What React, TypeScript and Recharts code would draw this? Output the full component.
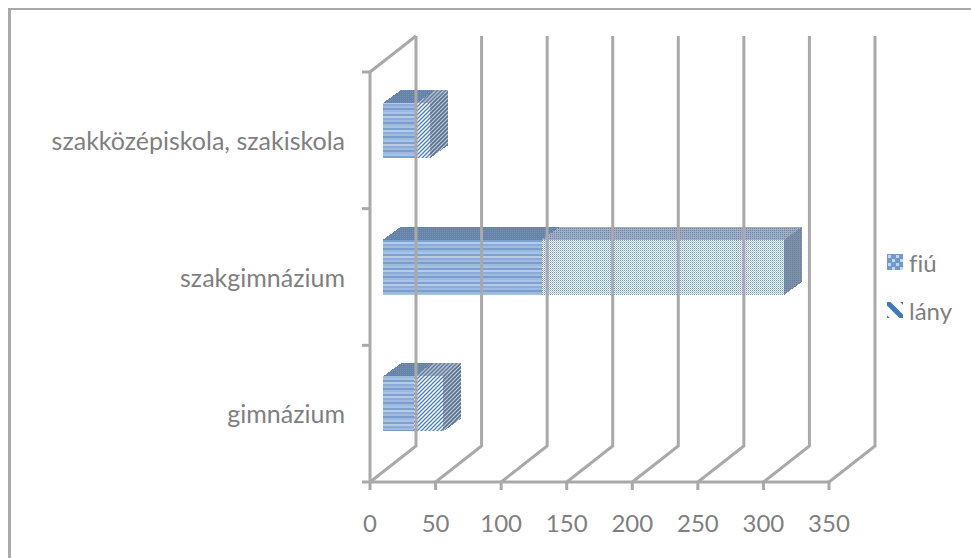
/**
 * Iskolatípusok fiú / lány létszáma: fekvő, halmozott "3D" oszlopdiagram
 */

import { BarChart, Bar, XAxis, YAxis, Legend } from 'recharts';

const schoolTypes = ['szakközépiskola, szakiskola', 'szakgimnázium', 'gimnázium'];
const fiu = [26, 121, 24];
const lany = [10, 185, 22];
const xTicks = [0, 50, 100, 150, 200, 250, 300, 350];

const chartData = schoolTypes.map((name, i) => ({ name, fiu: fiu[i], lany: lany[i] }));

const GRID = '#a9a9a9';
const TEXT = '#7f7f7f';
const FONT = 'Lato, "Open Sans", sans-serif';
const LINE = 3;

// floor / wall depth of the fake 3D box
const WALL_DX = 46;
const WALL_DY = 36;
const WALL_HEIGHT = 410;
const BAND = WALL_HEIGHT / schoolTypes.length;

// bars sit in the middle of the depth, and have a depth of their own
const BAR_DX = 13;
const BAR_DY = 10;
const BOX_DX = 18;
const BOX_DY = 13;

const XTick = ({ x, y, payload }: any) => {
  // recharts hands over the label position, 8px under the axis line
  const axisY = y - 8;
  return (
    <g>
      <path
        d={`M${x},${axisY + 8} L${x},${axisY} L${x + WALL_DX},${axisY - WALL_DY} L${x + WALL_DX},${axisY - WALL_HEIGHT - WALL_DY}`}
        fill="none"
        stroke={GRID}
        strokeWidth={LINE}
      />
      <text x={x} y={axisY + 42} dy="0.35em" textAnchor="middle" fill={TEXT} fontSize={24} fontFamily={FONT}>
        {payload.value}
      </text>
    </g>
  );
};

const YTick = ({ x, y, payload, index }: any) => {
  const axisX = x + 8;
  const top = y - BAND / 2;
  return (
    <g>
      <line x1={axisX - 8} x2={axisX} y1={top} y2={top} stroke={GRID} strokeWidth={LINE} />
      {index === 2 && (
        <line x1={axisX - 8} x2={axisX} y1={y + BAND / 2} y2={y + BAND / 2} stroke={GRID} strokeWidth={LINE} />
      )}
      {index === 0 && (
        <line x1={axisX} x2={axisX + WALL_DX} y1={top} y2={top - WALL_DY} stroke={GRID} strokeWidth={LINE} />
      )}
      <text x={345} y={y + 1} dy="0.35em" textAnchor="end" fill={TEXT} fontSize={25} fontFamily={FONT} style={{ fontVariantLigatures: 'none' }}>
        {payload.value}
      </text>
    </g>
  );
};

const Box = ({ x, y, width, height, face, top, side }: any) => {
  const left = x + BAR_DX;
  const upper = y - BAR_DY;
  const right = left + width;
  const lower = upper + height;
  return (
    <g shapeRendering="crispEdges">
      <rect x={left} y={upper} width={width} height={height} fill={face} />
      <polygon
        points={`${left},${upper} ${left + BOX_DX},${upper - BOX_DY} ${right + BOX_DX},${upper - BOX_DY} ${right},${upper}`}
        fill={top}
      />
      <polygon
        points={`${right},${upper} ${right + BOX_DX},${upper - BOX_DY} ${right + BOX_DX},${lower - BOX_DY} ${right},${lower}`}
        fill={side}
      />
    </g>
  );
};

const FiuBox = (props: any) => <Box {...props} face="url(#fiuFace)" top="url(#fiuTop)" side="url(#sideDark)" />;

// the middle bar is wide enough that its stripes read as a fine dither
const LanyBox = (props: any) =>
  props.index === 1 ? (
    <Box {...props} face="url(#lanyDither)" top="url(#lanyTopDither)" side="url(#sideDark)" />
  ) : (
    <Box {...props} face="url(#lanyStripes)" top="url(#lanyTop)" side="url(#sideStripes)" />
  );

const legendIcons: Record<string, string> = { fiú: 'url(#fiuLegend)', lány: 'url(#lanyLegend)' };

const LegendContent = ({ payload }: any) => (
  <div style={{ fontFamily: FONT, fontSize: 24, color: TEXT, fontVariantLigatures: 'none' }}>
    {payload.map((entry: any) => (
      <div key={entry.value} style={{ display: 'flex', alignItems: 'center', height: 48 }}>
        <svg width={16} height={16} style={{ marginRight: 6 }}>
          <rect width={16} height={16} fill={legendIcons[entry.value]} />
        </svg>
        {entry.value}
      </div>
    ))}
  </div>
);

export default function App() {
  return (
    <div style={{ position: 'absolute', left: 0, top: 0, width: 971, height: 558, background: '#fff', overflow: 'hidden' }}>
      <div style={{ position: 'absolute', left: 8, top: 8, right: 0, bottom: 0, borderLeft: `3px solid ${GRID}`, borderTop: `2px solid ${GRID}` }} />
      <BarChart
        width={971}
        height={558}
        layout="vertical"
        data={chartData}
        barSize={55}
        margin={{ top: 72, right: 58, bottom: 0, left: 0 }}
        style={{ position: 'absolute', left: 0, top: 0 }}
      >
        <defs>
          <pattern id="fiuFace" width="4" height="14" patternUnits="userSpaceOnUse">
            <rect width="4" height="14" fill="#8fafd8" />
            <rect y="0" width="4" height="2" fill="#a9c3e3" />
            <rect y="2" width="4" height="2" fill="#7da2d1" />
            <rect y="4" width="4" height="2" fill="#b5cbe6" />
            <rect y="6" width="4" height="2" fill="#8cabd6" />
            <rect y="8" width="4" height="2" fill="#a0bbdf" />
            <rect y="10" width="4" height="2" fill="#789ecf" />
            <rect y="12" width="4" height="2" fill="#9cb9de" />
          </pattern>
          <pattern id="fiuTop" width="2" height="2" patternUnits="userSpaceOnUse">
            <rect width="2" height="2" fill="#6584ab" />
            <rect width="1" height="1" fill="#7590b3" />
          </pattern>
          <pattern id="lanyStripes" width="4" height="4" patternUnits="userSpaceOnUse">
            <rect width="4" height="4" fill="#ffffff" />
            <path d="M-1,1 L1,-1 M0,4 L4,0 M3,5 L5,3" stroke="#4a7ebb" strokeWidth={1.3} shapeRendering="auto" />
          </pattern>
          <pattern id="lanyDither" width="2" height="2" patternUnits="userSpaceOnUse">
            <rect width="2" height="2" fill="#ffffff" />
            <rect width="1" height="1" fill="#6f97cb" />
            <rect x="1" y="1" width="1" height="1" fill="#a9c1e1" />
          </pattern>
          <pattern id="lanyTop" width="4" height="4" patternUnits="userSpaceOnUse">
            <rect width="4" height="4" fill="#b4bcc8" />
            <path d="M-1,1 L1,-1 M0,4 L4,0 M3,5 L5,3" stroke="#5f7da3" strokeWidth={1.3} shapeRendering="auto" />
          </pattern>
          <pattern id="lanyTopDither" width="2" height="2" patternUnits="userSpaceOnUse">
            <rect width="2" height="2" fill="#a3aebd" />
            <rect width="1" height="1" fill="#6c87a9" />
          </pattern>
          <pattern id="sideDark" width="2" height="2" patternUnits="userSpaceOnUse">
            <rect width="2" height="2" fill="#7f91a8" />
            <rect width="1" height="1" fill="#647d9c" />
          </pattern>
          <pattern id="sideStripes" width="4" height="4" patternUnits="userSpaceOnUse">
            <rect width="4" height="4" fill="#c4ccd6" />
            <path d="M-1,1 L1,-1 M0,4 L4,0 M3,5 L5,3" stroke="#54718f" strokeWidth={1.6} shapeRendering="auto" />
          </pattern>
          <pattern id="fiuLegend" width="8" height="8" patternUnits="userSpaceOnUse">
            <rect width="8" height="8" fill="#6f9ad0" />
            <rect x="1" y="1" width="3" height="3" fill="#c6d7ec" />
            <rect x="5" y="5" width="3" height="3" fill="#c6d7ec" />
          </pattern>
          <pattern id="lanyLegend" width="16" height="16" patternUnits="userSpaceOnUse">
            <rect width="16" height="16" fill="#ffffff" />
            <path d="M0,0 L16,16" stroke="#3f78bd" strokeWidth={5} />
            <path d="M-4,12 L4,20 M12,-4 L20,4" stroke="#3f78bd" strokeWidth={4} />
          </pattern>
        </defs>
        <XAxis
          type="number"
          domain={[0, 350]}
          ticks={xTicks}
          height={76}
          interval={0}
          tick={<XTick />}
          tickLine={false}
          axisLine={{ stroke: GRID, strokeWidth: LINE }}
        />
        <YAxis
          type="category"
          dataKey="name"
          width={370}
          interval={0}
          tick={<YTick />}
          tickLine={false}
          axisLine={{ stroke: GRID, strokeWidth: LINE }}
        />
        <Legend
          layout="vertical"
          align="right"
          verticalAlign="middle"
          width={100}
          wrapperStyle={{ left: 887, top: 238, right: 'auto', width: 84 }}
          content={<LegendContent />}
        />
        <Bar dataKey="fiu" name="fiú" stackId="a" fill="#4f81bd" shape={<FiuBox />} isAnimationActive={false} />
        <Bar dataKey="lany" name="lány" stackId="a" fill="#4f81bd" shape={<LanyBox />} isAnimationActive={false} />
      </BarChart>
    </div>
  );
}
